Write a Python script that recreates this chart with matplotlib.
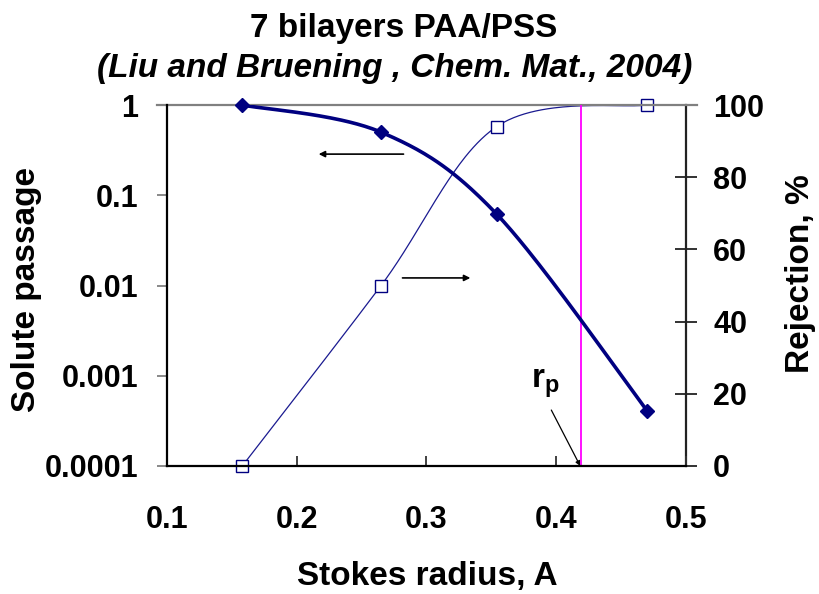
import numpy as np
import matplotlib
matplotlib.use("Agg")
import matplotlib.pyplot as plt

plt.rcParams["font.family"] = ["Liberation Sans", "DejaVu Sans"]
plt.rcParams["font.weight"] = "bold"
plt.rcParams["mathtext.fontset"] = "custom"
plt.rcParams["mathtext.bf"] = "Liberation Sans:bold"
plt.rcParams["mathtext.rm"] = "Liberation Sans:bold"

# Stokes radius (A) of the probe solutes
stokes_radius = [0.158, 0.265, 0.354, 0.470]
# Solute passage through the membrane (left, log scale)
solute_passage = [1.0, 0.50, 0.062, 0.00041]
# Rejection in percent (right axis)
rejection = [0.0, 50.0, 94.0, 100.0]
# Estimated pore radius
pore_radius = 0.419

x_ticks = [0.1, 0.2, 0.3, 0.4, 0.5]
x_tick_labels = ["0.1", "0.2", "0.3", "0.4", "0.5"]
left_ticks = [1e-4, 1e-3, 1e-2, 1e-1, 1]
left_tick_labels = ["0.0001", "0.001", "0.01", "0.1", "1"]
right_ticks = [0, 20, 40, 60, 80, 100]
right_tick_labels = ["0", "20", "40", "60", "80", "100"]

NAVY = "#000080"


def smooth(xs, ys, sx, sy, n=60):
    """Spreadsheet-style smoothed line (Catmull-Rom via cubic Bezier)."""
    P = np.column_stack([np.asarray(xs, float) * sx, np.asarray(ys, float) * sy])
    ext = np.vstack([P[0], P, P[-1]])
    t = np.linspace(0, 1, n)[:, None]
    out = []
    for i in range(len(P) - 1):
        p0, p1, p2, p3 = ext[i], ext[i + 1], ext[i + 2], ext[i + 3]
        c1 = p1 + (p2 - p0) / 6
        c2 = p2 - (p3 - p1) / 6
        seg = (1 - t) ** 3 * p1 + 3 * (1 - t) ** 2 * t * c1 + 3 * (1 - t) * t ** 2 * c2 + t ** 3 * p2
        out.append(seg if i == 0 else seg[1:])
    out = np.vstack(out)
    return out[:, 0] / sx, out[:, 1] / sy


fig = plt.figure(figsize=(8.19, 5.94), dpi=100)
ax = fig.add_axes([0.2039, 0.2155, 0.6337, 0.6077])
ax2 = ax.twinx()

# Left axis: solute passage (log)
ax.set_yscale("log")
ax.set_xlim(0.1, 0.5)
ax.set_ylim(1e-4, 1)
ax.set_yticks(left_ticks)
ax.set_yticklabels(left_tick_labels)
ax.yaxis.set_minor_locator(matplotlib.ticker.NullLocator())
ax.set_xticks(x_ticks)
ax.set_xticklabels(x_tick_labels)

# Right axis: rejection
ax2.set_ylim(0, 100)
ax2.set_yticks(right_ticks)
ax2.set_yticklabels(right_tick_labels)

# Pore radius marker
ax.axvline(pore_radius, color="#FF00FF", lw=1.3, zorder=1)

# Rejection curve (thin, hollow squares)
sx, sy = smooth(stokes_radius, rejection, 1300, 3.61)
ax2.plot(sx, sy, color="#1a1a90", lw=0.9, zorder=2)
ax2.plot(stokes_radius, rejection, ls="none", marker="s", ms=9,
         mfc="white", mec=NAVY, mew=1.0, clip_on=False, zorder=3)

# Solute passage curve (thick, filled diamonds), drawn on the log axis
px, py = smooth(stokes_radius, np.log10(solute_passage), 1300, 90.25)
ax.plot(px, 10 ** np.asarray(py), color=NAVY, lw=2.6, zorder=4,
        solid_capstyle="round")
ax.plot(stokes_radius, solute_passage, ls="none",
        marker="D", ms=7.5, color=NAVY, clip_on=False, zorder=5)
ax.set_zorder(ax2.get_zorder() + 1)
ax.patch.set_visible(False)

# Direction arrows
ax2.annotate("", xy=(0.2169, 86.4), xytext=(0.2823, 86.4),
             arrowprops=dict(arrowstyle="-|>", color="black", lw=1.2,
                             mutation_scale=9, shrinkA=0, shrinkB=0))
ax2.annotate("", xy=(0.3338, 52.1), xytext=(0.2815, 52.1),
             arrowprops=dict(arrowstyle="-|>", color="black", lw=1.2,
                             mutation_scale=9, shrinkA=0, shrinkB=0))

# Pore radius label
ax2.text(0.3808, 21.9, r"$\mathbf{r}_{\mathbf{p}}$", fontsize=24,
         ha="left", va="baseline")
ax2.annotate("", xy=(pore_radius - 0.0005, 0.0), xytext=(0.3962, 15.5),
             arrowprops=dict(arrowstyle="-|>", color="black", lw=0.9,
                             mutation_scale=7, shrinkA=0, shrinkB=0))

# Spines and ticks
for a in (ax, ax2):
    a.spines["top"].set_visible(False)
ax.spines["left"].set_linewidth(1.6)
ax.spines["left"].set_color("black")
ax.spines["bottom"].set_linewidth(1.6)
ax.spines["bottom"].set_color("black")
ax.spines["right"].set_visible(False)
ax2.spines["right"].set_linewidth(1.6)
ax2.spines["right"].set_color("#222222")
ax2.spines["left"].set_visible(False)
ax2.spines["bottom"].set_visible(False)
ax.plot([-0.019, 1.021], [1, 1], transform=ax.transAxes, clip_on=False,
        color="#808080", lw=1.6, zorder=0)

ax.tick_params(axis="y", direction="out", length=7.2, width=1.3,
               color="#808080", labelsize=22, pad=13.5)
ax.tick_params(axis="x", direction="in", length=7.2, width=1.3,
               color="#333333", labelsize=22, pad=28)
ax2.tick_params(axis="y", direction="inout", length=16, width=1.3,
                color="#222222", labelsize=22, pad=11.5)
for lab in ax.get_xticklabels() + ax.get_yticklabels() + ax2.get_yticklabels():
    lab.set_fontweight("bold")

# Titles and axis labels
fig.text(0.493, 1 - 28 / 594, "7 bilayers PAA/PSS", fontsize=24,
         fontweight="bold", ha="center", va="center")
fig.text(0.482, 1 - 68 / 594, "(Liu and Bruening , Chem. Mat., 2004)",
         fontsize=24, fontweight="bold", style="italic", ha="center", va="center")
fig.text(427 / 819, 1 - 576 / 594, "Stokes radius, A", fontsize=24,
         fontweight="bold", ha="center", va="center")
fig.text(27 / 819, 1 - 290 / 594, "Solute passage", fontsize=24,
         fontweight="bold", ha="center", va="center", rotation=90)
fig.text(801 / 819, 1 - 274 / 594, "Rejection, %", fontsize=24,
         fontweight="bold", ha="center", va="center", rotation=90)

fig.savefig("out.png", dpi=100, facecolor="white")
